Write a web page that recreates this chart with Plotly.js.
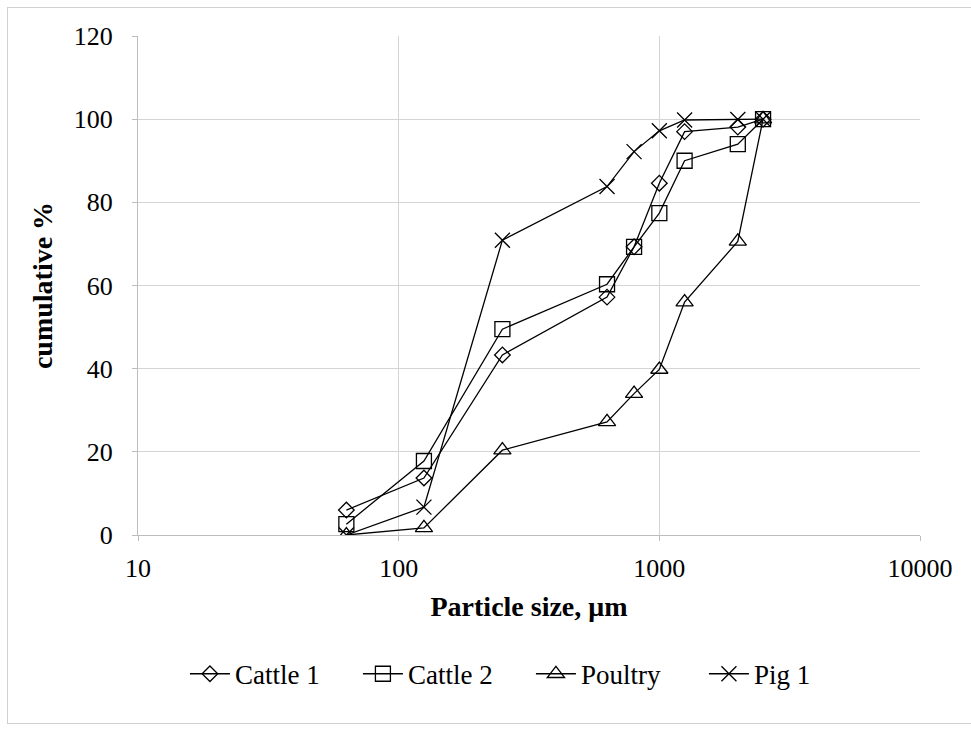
<!DOCTYPE html>
<html>
<head>
<meta charset="utf-8">
<script src="https://cdn.plot.ly/plotly-3.0.1.min.js"></script>
<style>
html,body{margin:0;padding:0;background:#fff;}
#frame{position:absolute;left:7px;top:7px;width:980px;height:717px;border:1px solid #d0d0d0;box-sizing:border-box;}
#chart{position:absolute;left:0;top:0;width:971px;height:731px;}
</style>
</head>
<body>
<div id="frame"></div>
<div id="chart"></div>
<script>
const particleSize = [63, 125, 250, 630, 800, 1000, 1250, 2000, 2500];
const cattle1 = [6.0, 13.7, 43.3, 57.2, 69.3, 84.6, 97.0, 98.1, 100];
const cattle2 = [2.6, 17.8, 49.5, 60.3, 69.3, 77.4, 90.0, 94.0, 100];
const poultry = [0, 1.7, 20.4, 27.2, 34.0, 39.8, 56.0, 70.6, 100];
const pig1 = [0, 6.7, 70.9, 83.8, 92.2, 97.2, 99.8, 99.9, 100];
const seriesNames = ["Cattle 1", "Cattle 2", "Poultry", "Pig 1"];
const xTicks = [10, 100, 1000, 10000];
const yTicks = [0, 20, 40, 60, 80, 100, 120];

const symbols = ["diamond-open", "square-open", "triangle-up-open", "x-thin-open"];
const sizes = [12, 15, 15, 15];
const ys = [cattle1, cattle2, poultry, pig1];
const traces = ys.map((y, i) => ({
  x: particleSize, y: y, name: seriesNames[i], type: "scatter", mode: "lines+markers",
  line: {color: "#000", width: 1.3},
  marker: {symbol: symbols[i], size: sizes[i], color: "#000", line: {color: "#000", width: 1.3}}
}));

const fontFam = "Liberation Serif, Times New Roman, serif";
const layout = {
  width: 971, height: 731,
  margin: {l: 138, r: 51, t: 36, b: 196},
  paper_bgcolor: "rgba(0,0,0,0)", plot_bgcolor: "#fff",
  font: {family: fontFam, color: "#000", size: 27},
  showlegend: true,
  legend: {orientation: "h", x: 0.06, xanchor: "left", y: -0.279, yanchor: "middle",
    font: {family: fontFam, size: 27}, itemwidth: 40, entrywidth: 118, entrywidthmode: "pixels",
    tracegroupgap: 0},
  xaxis: {
    type: "log", range: [1, 4], tickvals: xTicks, ticktext: xTicks.map(String),
    showgrid: true, gridcolor: "#d4d4d4", gridwidth: 1,
    showline: true, linecolor: "#bdbdbd", linewidth: 1, mirror: false,
    ticks: "outside", ticklen: 5, tickcolor: "#bdbdbd",
    ticklabelstandoff: 5,
    tickfont: {family: fontFam, size: 26},
    title: {text: "<b>Particle size, μm</b>", font: {family: fontFam, size: 28}, standoff: 14},
    zeroline: false
  },
  yaxis: {
    range: [0, 120], tickvals: yTicks,
    showgrid: true, gridcolor: "#d4d4d4", gridwidth: 1,
    showline: true, linecolor: "#bdbdbd", linewidth: 1,
    ticks: "outside", ticklen: 5, tickcolor: "#bdbdbd",
    ticklabelstandoff: 14,
    tickfont: {family: fontFam, size: 26},
    title: {text: "<b>cumulative %</b>", font: {family: fontFam, size: 28}, standoff: 12},
    zeroline: false
  }
};
Plotly.newPlot("chart", traces, layout, {displayModeBar: false, staticPlot: true});
</script>
</body>
</html>
